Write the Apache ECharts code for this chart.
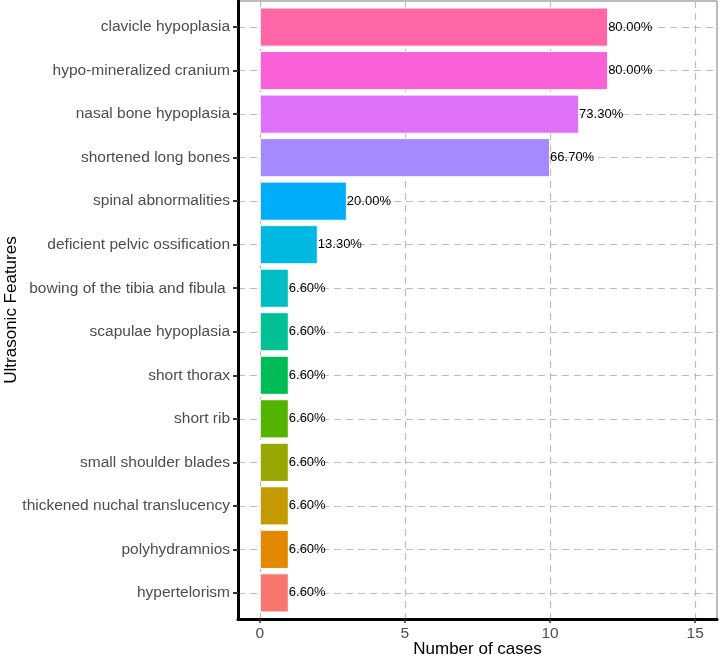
<!DOCTYPE html>
<html>
<head>
<meta charset="utf-8">
<script src="https://cdn.jsdelivr.net/npm/echarts@6/dist/echarts.min.js"></script>
<style>html,body{margin:0;padding:0;background:#fff}#c{width:719px;height:659px}</style>
</head>
<body>
<div id="c"></div>
<script>
// categories listed bottom to top
var categories = ["hypertelorism", "polyhydramnios", "thickened nuchal translucency", "small shoulder blades", "short rib", "short thorax", "scapulae hypoplasia", "bowing of the tibia and fibula ", "deficient pelvic ossification", "spinal abnormalities", "shortened long bones", "nasal bone hypoplasia", "hypo-mineralized cranium", "clavicle hypoplasia"];
var cases = [1, 1, 1, 1, 1, 1, 1, 1, 2, 3, 10, 11, 12, 12];
var percentLabels = ["6.60%", "6.60%", "6.60%", "6.60%", "6.60%", "6.60%", "6.60%", "6.60%", "13.30%", "20.00%", "66.70%", "73.30%", "80.00%", "80.00%"];
var barColors = ["#F8766D", "#E38900", "#C49A00", "#99A800", "#53B400", "#00BC56", "#00C094", "#00BFC4", "#00B9E3", "#00ADFA", "#A58AFF", "#DF70F8", "#FB61D7", "#FF66A8"];
var xTicks = [0, 5, 10, 15];
var yGridPositions = [1, 2, 3, 4, 5, 6, 7, 8, 9, 10, 11, 12, 13, 14];

var FONT = '"Liberation Sans", Arial, sans-serif';
var chart = echarts.init(document.getElementById('c'), null, {renderer: 'canvas'});
var dash = {color: '#BDBDBD', width: 1.2, type: [7, 5]};

var option = {
  animation: false,
  textStyle: {fontFamily: FONT},
  grid: [
    {left: 238, right: 2, top: 1, bottom: 40, show: true, borderColor: '#7A7A7A', borderWidth: 1, backgroundColor: '#fff', containLabel: false, outerBoundsMode: 'none'},
    {left: 238, right: 2, top: 5.35, bottom: 44.35, containLabel: false, outerBoundsMode: 'none'}
  ],
  xAxis: [
    {
      gridIndex: 0, type: 'value', min: -0.75, max: 15.75,
      axisLine: {show: true, onZero: false, lineStyle: {color: '#000', width: 3}},
      axisTick: {show: true, length: 4, customValues: xTicks, lineStyle: {color: '#333', width: 1.5}},
      axisLabel: {show: true, customValues: xTicks, fontSize: 15.5, color: '#4D4D4D', margin: 7, fontFamily: FONT},
      splitLine: {show: true, lineStyle: dash},
      name: 'Number of cases', nameLocation: 'middle', nameGap: 22, nameMoveOverlap: false,
      nameTextStyle: {fontSize: 17, color: '#000', fontFamily: FONT, verticalAlign: 'top'}
    },
    {gridIndex: 1, type: 'value', min: -0.75, max: 15.75, show: false, splitLine: {show: false}}
  ],
  yAxis: [
    {
      gridIndex: 0, type: 'value', min: 0.4, max: 14.6,
      axisLine: {show: true, onZero: false, lineStyle: {color: '#000', width: 3}},
      axisTick: {show: true, length: 5, customValues: yGridPositions, lineStyle: {color: '#333', width: 2}},
      axisLabel: {show: false, customValues: yGridPositions},
      splitLine: {show: true, lineStyle: dash},
      name: 'Ultrasonic Features', nameLocation: 'middle', nameGap: 218, nameRotate: 90, nameMoveOverlap: false,
      nameTextStyle: {fontSize: 17, color: '#000', fontFamily: FONT}
    },
    {
      gridIndex: 1, type: 'category', data: categories,
      axisLine: {show: false},
      axisTick: {show: false},
      axisLabel: {fontSize: 15.5, color: '#4D4D4D', margin: 8, fontFamily: FONT},
      splitLine: {show: false}
    }
  ],
  series: [{
    type: 'bar', xAxisIndex: 1, yAxisIndex: 1,
    barWidth: '90%',
    data: cases.map(function (v, i) {
      return {value: v, itemStyle: {color: barColors[i]}, label: {formatter: percentLabels[i]}};
    }),
    itemStyle: {borderColor: '#fff', borderWidth: 1},
    label: {show: true, position: 'right', distance: 0, fontSize: 13, color: '#000', fontFamily: FONT}
  }]
};
chart.setOption(option);
</script>
</body>
</html>
